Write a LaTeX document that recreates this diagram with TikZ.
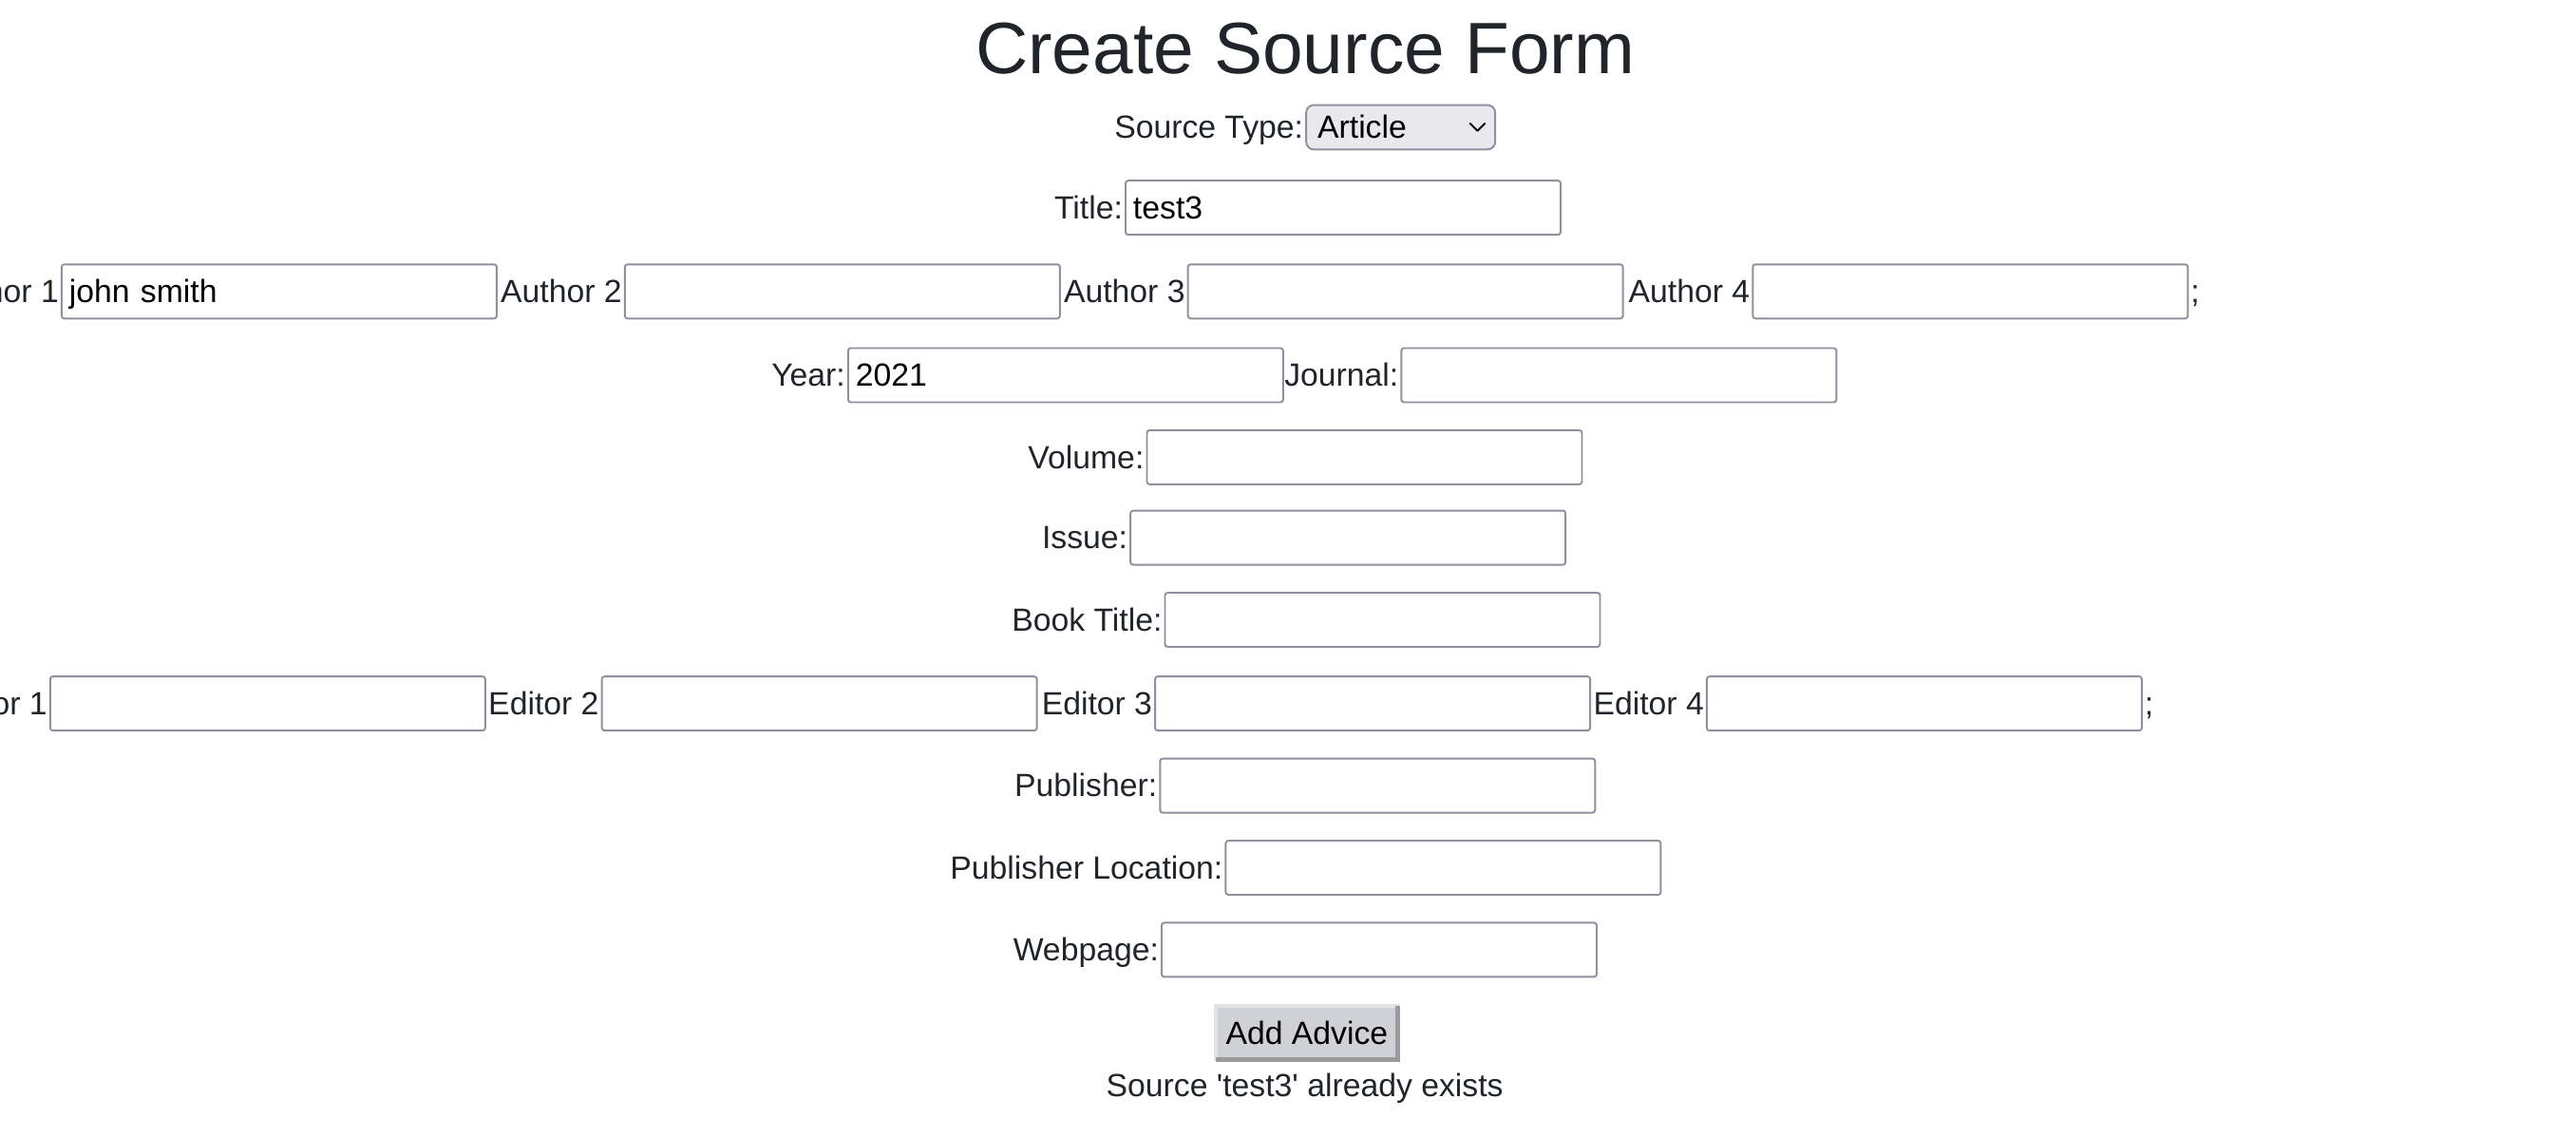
\documentclass[tikz,border=0pt]{standalone}
\usepackage{fontspec}
\setmainfont{Liberation Sans}
\definecolor{inktext}{HTML}{212529}
\definecolor{fieldline}{HTML}{8F8F9D}
\definecolor{selectfill}{HTML}{E9E9ED}
\definecolor{btnfill}{HTML}{D0D0D7}
\definecolor{btnlight}{HTML}{E3E3E3}
\definecolor{btndark}{HTML}{9A9A9A}
\tikzset{
  lbl/.style={anchor=east, inner sep=0pt, xshift=-0.4pt, text=inktext,
    font=\fontsize{9.6}{11}\selectfont, text height=8.2pt, text depth=1.5pt},
  field/.style={draw=fieldline, line width=0.55pt, rounded corners=0.8pt, anchor=west,
    inner xsep=0.8mm, inner ysep=0pt, text width=44.2mm, align=left,
    minimum height=5.7mm, text height=8.2pt, text depth=1.5pt,
    font=\fontsize{9.6}{11}\selectfont},
}
\begin{document}
\begin{tikzpicture}[x=0.17285mm,y=-0.17285mm]
	\useasboundingbox (0,0) rectangle (1569,692);
	\clip (0,0) rectangle (1569,692);
	\node[anchor=base, inner sep=0pt, text=inktext, font=\fontsize{21.8}{26}\selectfont] (heading) at (795,45) {Create Source Form};
	% source type select
	\node[draw=fieldline, fill=selectfill, line width=0.55pt, rounded corners=2.3pt, anchor=west,
		inner xsep=1.2mm, inner ysep=0pt, text width=17.5mm, align=left, minimum height=4.67mm,
		text height=8.2pt, text depth=1.5pt, font=\fontsize{9.6}{11}\selectfont] (type) at (795,77.5) {Article};
	\node[lbl] (l-type) at (type.west) {Source Type:};
	\draw[line width=0.55pt, line cap=round, line join=round] ([xshift=-2.75mm,yshift=0.4mm]type.east)
		-- ++(0.78mm,-0.78mm) -- ++(0.78mm,0.78mm);
	% text fields
	\foreach \name/\lbl/\bx/\by/\val in {title/Title:/685/126.5/test3,
		author1/Author 1/37/177.5/john smith, author2/Author 2/380/177.5/,
		author3/Author 3/723/177.5/, author4/Author 4/1067/177.5/,
		year/Year:/516/228.5/2021, journal/Journal:/853/228.5/,
		volume/Volume:/698/278.5/, issue/Issue:/688/327.5/,
		booktitle/Book Title:/709/377.5/,
		editor1/Editor 1/30/428.5/, editor2/Editor 2/366/428.5/,
		editor3/Editor 3/703/428.5/, editor4/Editor 4/1039/428.5/,
		publisher/Publisher:/706/478.5/, publoc/Publisher Location:/746/528.5/,
		webpage/Webpage:/707/578.5/}
	{
		\node[field] (f-\name) at (\bx,\by) {\val};
		\node[lbl] (l-\name) at (f-\name.west) {\lbl};
	}
	\node[lbl, anchor=west, xshift=0.8pt] (semi-a) at (f-author4.east) {;};
	\node[lbl, anchor=west, xshift=0.8pt] (semi-e) at (f-editor4.east) {;};
	% button and message
	\node[fill=btnfill, minimum width=19.4mm, minimum height=6mm, inner sep=0pt,
		text height=8.2pt, text depth=1.5pt, font=\fontsize{9.6}{11}\selectfont] (btn) at (796,629) {Add Advice};
	\draw[btnlight, line width=0.4mm] ([shift={(0.2mm,0.2mm)}]btn.south west) -- ([shift={(0.2mm,-0.2mm)}]btn.north west) -- ([shift={(-0.2mm,-0.2mm)}]btn.north east);
	\draw[btndark, line width=0.45mm] ([shift={(-0.22mm,-0.2mm)}]btn.north east) -- ([shift={(-0.22mm,0.22mm)}]btn.south east) -- ([shift={(0.2mm,0.22mm)}]btn.south west);
	\node[lbl, anchor=center, xshift=0pt] (msg) at (795.5,661) {Source \textquotesingle test3\textquotesingle{} already exists};
\end{tikzpicture}
\end{document}
